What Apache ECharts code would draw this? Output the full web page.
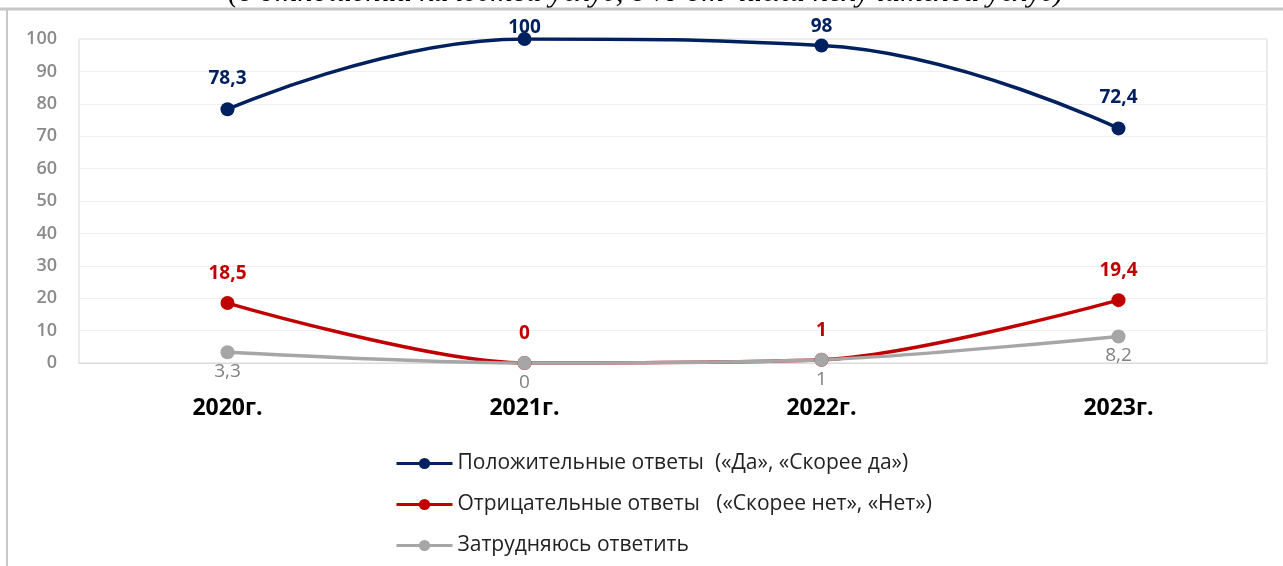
<!DOCTYPE html>
<html>
<head>
<meta charset="utf-8">
<script src="https://cdn.jsdelivr.net/npm/echarts@6/dist/echarts.min.js"></script>
<style>
  html, body { margin: 0; padding: 0; background: #fff; }
  #chart { width: 1283px; height: 566px; }
</style>
</head>
<body>
<div id="chart"></div>
<script>
var years = ['2020г.', '2021г.', '2022г.', '2023г.'];
var positive = [78.3, 100, 98, 72.4];
var negative = [18.5, 0, 1, 19.4];
var undecided = [3.3, 0, 1, 8.2];
var yTicks = [0, 10, 20, 30, 40, 50, 60, 70, 80, 90, 100];

var names = [
  'Положительные ответы  («Да», «Скорее да»)',
  'Отрицательные ответы   («Скорее нет», «Нет»)',
  'Затрудняюсь ответить'
];
var colors = ['#002060', '#c00000', '#a6a6a6'];
// labels near the top of the plot are pushed down, like in the original
var topLabelDist = [14, -5, 2, 14];

function comma(v) {
  return String(v).replace('.', ',');
}

var chart = echarts.init(document.getElementById('chart'));

function lineSeries(i, data, smooth, labelPos, labelColor, bold, dists) {
  return {
    name: names[i],
    type: 'line',
    data: data.map(function (v, k) {
      return dists ? { value: v, label: { distance: dists[k] } } : v;
    }),
    smooth: smooth,
    symbol: 'circle',
    symbolSize: 14,
    lineStyle: { width: 3.5, color: colors[i] },
    itemStyle: { color: colors[i] },
    label: {
      show: true,
      position: labelPos,
      distance: labelPos === 'top' ? 13 : 3,
      formatter: function (p) { return comma(p.value); },
      color: labelColor,
      fontSize: 19,
      fontWeight: bold ? 'bold' : 'normal',
      fontFamily: 'Open Sans'
    },
    emphasis: { disabled: true }
  };
}

chart.setOption({
  animation: false,
  backgroundColor: '#fff',
  graphic: [
    {
      type: 'text',
      left: 228,
      top: -23,
      style: {
        text: '(в отношении качества услуг, в % от числа получателей услуг)',
        font: 'italic 31px "Liberation Serif"',
        fill: '#000'
      }
    },
    {
      type: 'line',
      shape: { x1: 0, y1: 9, x2: 1283, y2: 9 },
      style: { stroke: '#c8c8c8', lineWidth: 3 }
    },
    {
      type: 'line',
      shape: { x1: 7, y1: 9, x2: 7, y2: 566 },
      style: { stroke: '#c8c8c8', lineWidth: 2 }
    }
  ],
  grid: { left: 79, right: 16, top: 39, bottom: 203, show: true, borderColor: '#d9d9d9', borderWidth: 1 },
  legend: {
    orient: 'vertical',
    left: 390,
    top: 448,
    itemGap: 20,
    itemWidth: 56,
    itemHeight: 14,
    data: names,
    lineStyle: { width: 3 },
    textStyle: { fontSize: 21, color: '#222', fontFamily: 'Open Sans' }
  },
  xAxis: {
    type: 'category',
    data: years,
    boundaryGap: true,
    axisLine: { lineStyle: { color: '#d9d9d9' } },
    axisTick: { show: false },
    axisLabel: { margin: 34, fontSize: 23, fontWeight: 'bold', color: '#000', fontFamily: 'Open Sans' }
  },
  yAxis: {
    type: 'value',
    min: yTicks[0],
    max: yTicks[yTicks.length - 1],
    interval: 10,
    axisLine: { show: false },
    axisTick: { show: false },
    splitLine: { lineStyle: { color: '#efefef' } },
    axisLabel: { margin: 22, fontSize: 18, fontWeight: 600, color: '#8a8a8a', fontFamily: 'Open Sans' }
  },
  series: [
    lineSeries(0, positive, 0.45, 'top', '#002060', true, topLabelDist),
    lineSeries(1, negative, 0.3, 'top', '#c00000', true),
    lineSeries(2, undecided, 0.3, 'bottom', '#808080', false)
  ]
});
</script>
</body>
</html>
